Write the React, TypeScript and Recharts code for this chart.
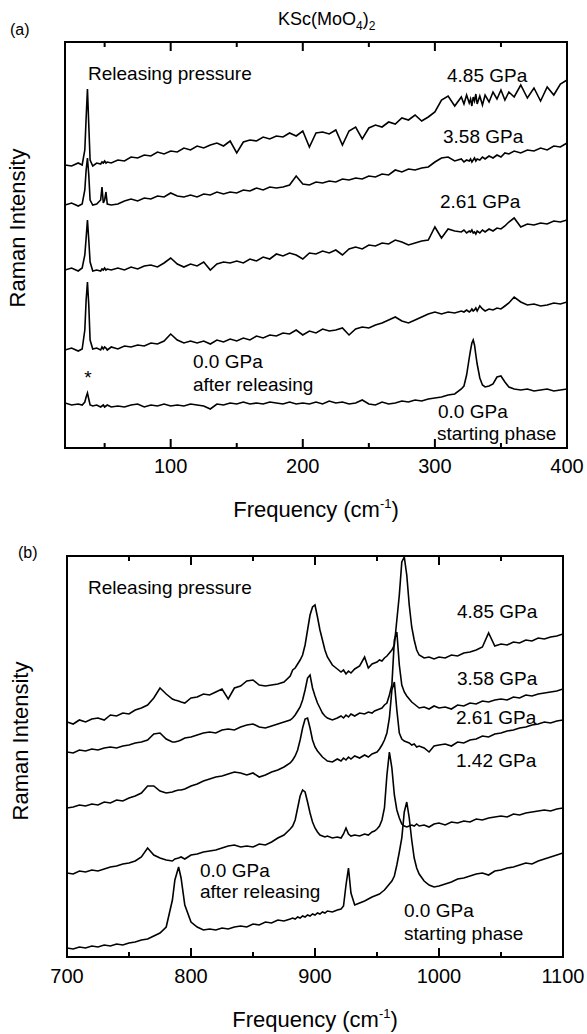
import React from 'react';
import { LineChart, Line, XAxis, YAxis, ReferenceArea } from 'recharts';

const FONT = '"Liberation Sans", Arial, Helvetica, sans-serif';

const freqA = [
  20, 25, 30, 33, 35, 36, 37, 38, 39, 41, 44, 47, 48, 49, 50, 51, 52, 55,
  60, 65, 70, 75, 80, 85, 90, 95, 100, 105, 110, 115, 120, 125, 130, 135, 140, 145, 150, 155,
  160, 165, 170, 175, 180, 185, 190, 195, 200, 205, 210, 215, 220, 225, 230, 235, 240, 245,
  250, 255, 260, 265, 270, 275, 280, 285, 290, 295, 300, 305, 310, 315, 320,
  322, 324, 326, 327, 328, 329, 330, 331, 332, 334, 336, 338, 341, 344, 347, 350, 353, 356,
  360, 365, 370, 375, 380, 385, 390, 395, 400,
];
const a485 = [
  283, 282, 285, 283, 298, 330, 359, 323, 288, 282, 285, 284, 286, 285, 287, 285, 286, 285,
  288, 287, 291, 290, 293, 292, 296, 294, 297, 296, 300, 298, 302, 300, 303, 305, 302, 307, 295, 306,
  308, 307, 311, 309, 312, 311, 315, 312, 317, 301, 315, 316, 314, 318, 303, 317, 321, 309,
  320, 323, 321, 326, 324, 330, 328, 333, 327, 331, 336, 348, 352, 342, 351,
  344, 353, 345, 349, 342, 351, 347, 354, 344, 352, 343, 353, 346, 356, 349, 358, 348, 356,
  351, 363, 350, 360, 347, 361, 353, 364, 368,
];
const a358 = [
  243, 245, 242, 244, 258, 278, 290, 273, 248, 243, 244, 248, 261, 245, 248, 256, 244, 243,
  244, 247, 249, 247, 250, 249, 252, 251, 255, 252, 251, 253, 251, 254, 253, 256, 254, 256, 255, 258,
  257, 260, 258, 261, 260, 261, 263, 272, 264, 263, 266, 265, 267, 266, 269, 268, 270, 269,
  272, 271, 274, 273, 278, 276, 279, 278, 280, 281, 286, 290, 291, 287, 289,
  286, 288, 287, 289, 286, 288, 290, 287, 289, 288, 291, 289, 292, 290, 293, 291, 295, 294,
  297, 295, 298, 297, 300, 298, 302, 301, 305,
];
const a261 = [
  178, 180, 177, 180, 193, 210, 228, 208, 186, 177, 178, 177, 179, 178, 180, 178, 179, 178,
  180, 178, 181, 179, 182, 183, 181, 185, 190, 184, 181, 184, 182, 186, 178, 184, 186, 185, 187, 185,
  189, 187, 191, 189, 194, 192, 195, 193, 189, 195, 194, 197, 195, 198, 193, 199, 201, 199,
  203, 202, 205, 204, 208, 206, 203, 205, 207, 208, 221, 210, 219, 217, 216,
  218, 215, 217, 216, 218, 215, 216, 214, 217, 215, 218, 216, 219, 217, 220, 219, 222, 226,
  230, 221, 224, 223, 225, 224, 227, 226, 228,
];
const a000after = [
  98, 100, 97, 99, 118, 148, 166, 143, 108, 99, 100, 98, 101, 99, 101, 100, 98, 101,
  99, 102, 101, 103, 102, 105, 104, 107, 114, 108, 105, 107, 105, 107, 104, 108, 106, 109, 107, 110,
  108, 112, 110, 113, 112, 115, 114, 118, 113, 117, 115, 119, 117, 118, 120, 113, 119, 121,
  120, 123, 125, 128, 131, 127, 125, 128, 131, 134, 136, 134, 136, 135, 137,
  136, 138, 136, 137, 139, 137, 138, 140, 137, 142, 139, 137, 139, 138, 140, 139, 142, 145,
  151, 146, 143, 144, 142, 143, 145, 144, 146,
];
const a000start = [
  45, 43, 44, 43, 46, 51, 55, 49, 43, 42, 43, 41, 42, 43, 41, 42, 43, 41,
  42, 41, 43, 44, 41, 43, 42, 44, 42, 43, 42, 44, 43, 42, 39, 44, 43, 45, 44, 46,
  44, 45, 44, 46, 45, 44, 46, 44, 45, 44, 46, 44, 47, 45, 46, 44, 45, 48,
  44, 43, 46, 44, 45, 47, 46, 48, 47, 49, 50, 51, 53, 54, 59,
  62, 73, 90, 98, 105, 108, 103, 93, 84, 70, 63, 61, 62, 64, 71, 72, 66, 61,
  59, 58, 59, 57, 58, 59, 57, 58, 59,
];

const freqB = [
  700, 705, 710, 715, 720, 725, 730, 735, 740, 745, 750, 755, 760, 765, 770, 775, 780, 785, 787, 790,
  792, 795, 800, 805, 810, 815, 820, 825, 830, 835, 840, 845, 850, 855, 860, 865, 870, 875, 880,
  882, 884, 886, 888, 890, 892, 894, 896, 898, 900, 902, 904, 906, 908, 910,
  914, 918, 921, 923, 925, 927, 929, 932, 936, 940, 943, 946, 948,
  950, 952, 954, 956, 958, 960, 962, 964, 966, 968, 970, 972, 974, 976, 978, 980, 982, 984,
  988, 992, 996,
  1000, 1005, 1010, 1015, 1020, 1025, 1030, 1035, 1040, 1045, 1050, 1055, 1060, 1065, 1070, 1075,
  1080, 1085, 1090, 1095, 1100,
];
const b485 = [
  235, 233, 237, 235, 238, 239, 237, 242, 241, 244, 243, 247, 249, 252, 259, 269, 263, 258, 257, 256,
  255, 254, 259, 260, 263, 262, 265, 268, 258, 269, 271, 276, 277, 272, 271, 272, 273, 275, 281,
  287, 289, 293, 297, 302, 312, 327, 342, 350, 352, 340, 327, 317, 307, 300,
  292, 288, 285, 287, 283, 286, 284, 288, 291, 300, 289, 293, 294,
  295, 297, 296, 299, 301, 304, 307, 312, 337, 362, 395, 400, 382, 352, 330, 317, 307, 302,
  299, 300, 298,
  300, 299, 302, 301, 304, 305, 307, 310, 324, 311, 313, 312, 315, 314, 317, 316,
  319, 318, 320, 321, 323,
];
const b358 = [
  205, 204, 207, 206, 208, 207, 209, 210, 209, 211, 212, 214, 215, 217, 223, 224, 218, 215, 215, 216,
  217, 219, 220, 222, 224, 225, 224, 227, 228, 227, 230, 232, 233, 230, 229, 231, 233, 235, 237,
  239, 242, 246, 250, 257, 267, 279, 282, 269, 261, 254, 249, 244, 241, 239,
  237, 239, 241, 239, 242, 240, 243, 241, 244, 243, 245, 244, 246,
  247, 248, 249, 252, 254, 262, 272, 317, 325, 292, 272, 265, 261, 258, 255, 253, 251, 249,
  250, 248, 251,
  249, 250, 248, 252, 251, 254, 253, 256, 255, 257, 258, 257, 260, 259, 262, 261,
  263, 264, 265, 266, 268,
];
const b261 = [
  149, 150, 152, 151, 153, 152, 155, 154, 157, 156, 159, 161, 164, 171, 171, 166, 164, 165, 166, 167,
  167, 168, 171, 173, 176, 178, 180, 181, 183, 185, 184, 182, 184, 180, 182, 185, 187, 190, 194,
  197, 201, 207, 217, 229, 238, 239, 229, 217, 210, 206, 203, 200, 198, 196,
  195, 198, 196, 199, 197, 200, 198, 201, 199, 202, 200, 203, 204,
  205, 208, 212, 217, 224, 239, 267, 275, 247, 224, 218, 216, 215, 214, 212, 213, 210, 211,
  209, 205, 211,
  212, 213, 211, 215, 214, 217, 218, 221, 220, 223, 224, 226, 227, 229, 230, 232,
  233, 235, 234, 236, 237,
];
const b142 = [
  84, 83, 86, 85, 87, 86, 88, 90, 91, 93, 94, 96, 100, 109, 102, 99, 97, 96, 98, 99,
  100, 98, 102, 103, 105, 106, 107, 109, 111, 112, 110, 111, 110, 113, 112, 115, 119, 122, 128,
  131, 137, 149, 161, 167, 165, 155, 144, 135, 129, 125, 122, 121, 120, 121,
  119, 120, 119, 123, 129, 123, 121, 122, 121, 123, 122, 125, 126,
  128, 131, 137, 149, 182, 205, 189, 162, 147, 139, 133, 131, 130, 131, 132, 131, 133, 131,
  132, 130, 133,
  134, 132, 135, 134, 136, 135, 138, 137, 139, 140, 141, 140, 143, 142, 144, 145,
  146, 147, 146, 148, 149,
];
const b000start = [
  9, 8, 10, 9, 11, 10, 12, 11, 13, 12, 14, 15, 17, 18, 21, 24, 30, 57, 77, 90,
  79, 52, 35, 30, 27, 28, 27, 29, 28, 30, 31, 30, 33, 32, 35, 34, 37, 36, 38,
  39, 38, 40, 39, 41, 40, 42, 41, 43, 42, 44, 43, 45, 44, 46,
  45, 47, 48, 51, 72, 89, 64, 52, 54, 56, 58, 60, 61,
  62, 63, 65, 67, 70, 73, 76, 81, 92, 105, 119, 145, 155, 139, 117, 99, 89, 83,
  76, 72, 70,
  71, 73, 75, 78, 79, 81, 83, 84, 82, 86, 87, 89, 90, 92, 94, 93,
  96, 98, 100, 102, 104,
];

const seriesA: Record<string, number[]> = { a485, a358, a261, a000after, a000start };
const seriesB: Record<string, number[]> = { b485, b358, b261, b142, b000start };

function buildRows(freq: number[], series: Record<string, number[]>) {
  return freq.map((f, i) => {
    const row: Record<string, number> = { f };
    Object.keys(series).forEach((k) => {
      row[k] = series[k][i];
    });
    return row;
  });
}

const rowsA = buildRows(freqA, seriesA);
const rowsB = buildRows(freqB, seriesB);

const labelsA = [100, 200, 300, 400];
const majorA = [100, 200, 300];
const minorA = [50, 150, 250, 350];
const labelsB = [700, 800, 900, 1000, 1100];
const majorB = [800, 900, 1000];
const minorB = [750, 850, 950, 1050];

const BOX_A = { left: 65, right: 567, top: 42, bottom: 448, min: 20, max: 400, chartTop: 0, chartH: 530 };
const BOX_B = { left: 67, right: 563, top: 556, bottom: 957, min: 700, max: 1100, chartTop: 530, chartH: 504 };

const LINE_W = 1.6;
const MAJOR_LEN = 9;
const MINOR_LEN = 5;

function frameTicks(box: typeof BOX_A, major: number[], minor: number[], prefix: string) {
  const sx = (v: number) => box.left + ((v - box.min) / (box.max - box.min)) * (box.right - box.left);
  const out: React.ReactNode[] = [];
  const add = (v: number, len: number, kind: string) => {
    const x = sx(v);
    out.push(
      <rect key={prefix + kind + 'b' + v} x={x - 1} y={box.bottom - len} width={2} height={len} fill="#000" />,
      <rect key={prefix + kind + 't' + v} x={x - 1} y={box.top} width={2} height={len} fill="#000" />
    );
  };
  major.forEach((v) => add(v, MAJOR_LEN, 'M'));
  minor.forEach((v) => add(v, MINOR_LEN, 'm'));
  return out;
}

const txt = { fontFamily: FONT, fill: '#000' } as const;

function Panel({ box, rows, series, labels, tickMargin }: { box: typeof BOX_A; rows: any[]; series: Record<string, number[]>; labels: number[]; tickMargin: number }) {
  const yMax = box.bottom - box.top;
  const axisH = box.chartTop + box.chartH - box.bottom;
  return (
    <div style={{ position: 'absolute', left: 0, top: box.chartTop }}>
      <LineChart
        width={587}
        height={box.chartH}
        data={rows}
        margin={{ top: box.top - box.chartTop, right: 587 - box.right, bottom: 0, left: box.left }}
      >
        <XAxis
          dataKey="f"
          type="number"
          domain={[box.min, box.max]}
          ticks={labels}
          interval={0}
          allowDataOverflow
          axisLine={false}
          tickLine={false}
          tickSize={0}
          tickMargin={tickMargin}
          height={axisH}
          tick={{ fontSize: 20, fill: '#000', fontFamily: FONT }}
        />
        <YAxis hide type="number" domain={[0, yMax]} allowDataOverflow />
        {Object.keys(series).map((k) => (
          <Line key={k} dataKey={k} type="linear" stroke="#000" strokeWidth={LINE_W} dot={false} isAnimationActive={false} />
        ))}
        <ReferenceArea x1={box.min} x2={box.max} y1={0} y2={yMax} fill="none" fillOpacity={0} stroke="#000" strokeWidth={2} ifOverflow="visible" />
      </LineChart>
    </div>
  );
}

export default function App() {
  return (
    <div style={{ position: 'absolute', left: 0, top: 0, width: 587, height: 1034, background: '#fff' }}>
      <Panel box={BOX_A} rows={rowsA} series={seriesA} labels={labelsA} tickMargin={11} />
      <Panel box={BOX_B} rows={rowsB} series={seriesB} labels={labelsB} tickMargin={12} />
      <svg width={587} height={1034} style={{ position: 'absolute', left: 0, top: 0, pointerEvents: 'none' }}>
        <g>{frameTicks(BOX_A, majorA, minorA, 'a')}</g>
        <g>{frameTicks(BOX_B, majorB, minorB, 'b')}</g>

        <text x={278} y={25} fontSize={18} {...txt}>
          KSc(MoO<tspan dy={5} fontSize={12}>4</tspan>
          <tspan dy={-5}>)</tspan>
          <tspan dy={5} fontSize={12}>2</tspan>
        </text>
        <text x={10} y={35} fontSize={16} {...txt}>(a)</text>
        <text x={18} y={558} fontSize={16} {...txt}>(b)</text>

        <text x={25} y={228} fontSize={22} textAnchor="middle" transform="rotate(-90 25 228)" {...txt}>Raman Intensity</text>
        <text x={28} y={741} fontSize={22} textAnchor="middle" transform="rotate(-90 28 741)" {...txt}>Raman Intensity</text>
        <text x={316} y={517} fontSize={22} textAnchor="middle" {...txt}>
          Frequency (cm<tspan dy={-9} fontSize={13}>-1</tspan>
          <tspan dy={9}>)</tspan>
        </text>
        <text x={315} y={1027} fontSize={22} textAnchor="middle" {...txt}>
          Frequency (cm<tspan dy={-9} fontSize={13}>-1</tspan>
          <tspan dy={9}>)</tspan>
        </text>

        <text x={88} y={80} fontSize={19} {...txt}>Releasing pressure</text>
        <text x={447} y={82} fontSize={19} {...txt}>4.85 GPa</text>
        <text x={443} y={143} fontSize={19} {...txt}>3.58 GPa</text>
        <text x={440} y={208} fontSize={19} {...txt}>2.61 GPa</text>
        <text x={193} y={368} fontSize={19} {...txt}>0.0 GPa</text>
        <text x={193} y={391} fontSize={19} {...txt}>after releasing</text>
        <text x={88} y={384} fontSize={19} textAnchor="middle" {...txt}>*</text>
        <text x={438} y={418} fontSize={19} {...txt}>0.0 GPa</text>
        <text x={437} y={440} fontSize={19} {...txt}>starting phase</text>

        <text x={88} y={594} fontSize={19} {...txt}>Releasing pressure</text>
        <text x={457} y={618} fontSize={19} {...txt}>4.85 GPa</text>
        <text x={457} y={685} fontSize={19} {...txt}>3.58 GPa</text>
        <text x={456} y={724} fontSize={19} {...txt}>2.61 GPa</text>
        <text x={456} y={767} fontSize={19} {...txt}>1.42 GPa</text>
        <text x={200} y={877} fontSize={19} {...txt}>0.0 GPa</text>
        <text x={200} y={898} fontSize={19} {...txt}>after releasing</text>
        <text x={404} y={917} fontSize={19} {...txt}>0.0 GPa</text>
        <text x={404} y={940} fontSize={19} {...txt}>starting phase</text>
      </svg>
    </div>
  );
}
